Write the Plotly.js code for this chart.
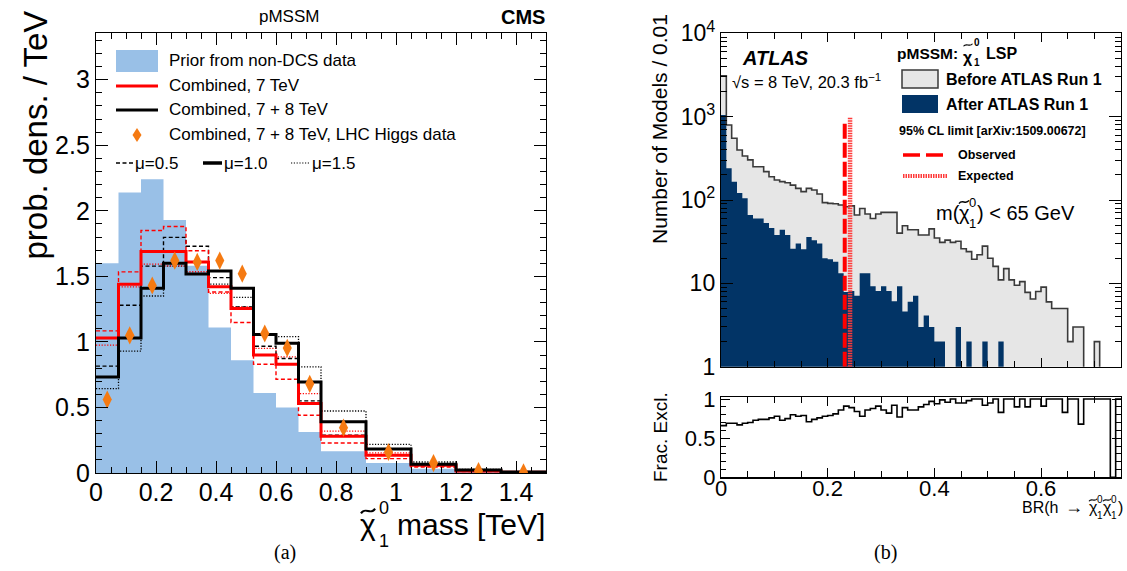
<!DOCTYPE html>
<html>
<head>
<meta charset="utf-8">
<script src="https://cdn.plot.ly/plotly-3.0.1.min.js"></script>
<style>
  html, body { margin: 0; padding: 0; background: #ffffff; }
  #chart { width: 1127px; height: 571px; }
</style>
</head>
<body>
<div id="chart"></div>
<script>
// ---------- (a) neutralino mass posterior densities (per TeV) ----------
const massEdges = [0, 0.075, 0.15, 0.225, 0.3, 0.375, 0.45, 0.525, 0.6, 0.675, 0.75, 0.9, 1.05, 1.2, 1.35, 1.5];
const priorNonDCS = [1.60, 2.14, 2.24, 1.93, 1.58, 1.11, 0.86, 0.61, 0.50, 0.313, 0.166, 0.076, 0.033, 0.012, 0.005];
const comb7 = [1.03, 1.44, 1.69, 1.69, 1.61, 1.42, 1.255, 0.90, 0.83, 0.53, 0.28, 0.135, 0.059, 0.015, 0.005];
const comb7Mu05 = [1.084, 1.534, 1.85, 1.88, 1.695, 1.38, 1.148, 0.83, 0.715, 0.44, 0.229, 0.11, 0.046, 0.012, 0.004];
const comb7Mu15 = [0.975, 1.42, 1.593, 1.58, 1.535, 1.37, 1.267, 0.95, 0.886, 0.606, 0.32, 0.153, 0.066, 0.018, 0.006];
const comb78 = [0.733, 1.03, 1.41, 1.60, 1.517, 1.54, 1.41, 1.056, 0.99, 0.695, 0.39, 0.183, 0.066, 0.023, 0.008];
const comb78Mu05 = [0.815, 1.28, 1.578, 1.797, 1.73, 1.49, 1.267, 0.967, 0.873, 0.55, 0.288, 0.14, 0.055, 0.017, 0.006];
const comb78Mu15 = [0.644, 0.93, 1.35, 1.578, 1.52, 1.44, 1.34, 1.05, 1.04, 0.81, 0.473, 0.219, 0.084, 0.028, 0.010];
const comb78Higgs = [0.56, 1.05, 1.43, 1.62, 1.61, 1.62, 1.52, 1.064, 0.954, 0.68, 0.346, 0.16, 0.076, 0.015, 0.005];

// ---------- (b) BR(h -> chi chi) model counts per 0.01 ----------
const brBinWidth = 0.01;
const beforeRun1 = [3100, 795, 550, 398, 337, 303, 251, 251, 219, 190, 174, 166, 161, 151, 138, 126, 138, 132, 118, 93,
  91, 90, 87, 83, 85, 66, 79, 68, 60, 68, 71, 71, 71, 40, 49, 44, 44, 38, 38, 45,
  35, 31, 33, 31, 32, 26, 24, 19.5, 22, 28, 20, 16, 11, 15, 11, 9.5, 10.5, 7.8, 6.5, 8,
  9, 6, 5, 5, 5, 2, 3, 3, 0, 0, 2, 0, 0, 0, 0];
const afterRun1 = [1050, 240, 166, 121, 105, 66, 60, 60, 53, 46, 38, 44, 38, 26, 30, 25.6, 36, 33, 30, 20,
  19.4, 18.2, 13.2, 7.9, 8.1, 7.1, 13.2, 13.2, 9.2, 8.1, 9.2, 8.1, 6.1, 9.2, 4.6, 6, 7.1, 3, 4.1, 3,
  2, 2, 0, 0, 3, 0, 2, 0, 0, 2, 0, 0, 2, 0, 0, 0, 0, 0, 0, 0,
  0, 0, 0, 0, 0, 0, 0, 0, 0, 0, 0, 0, 0, 0, 0];
const fracExcluded = [0.66, 0.69, 0.69, 0.67, 0.69, 0.70, 0.73, 0.74, 0.74, 0.76, 0.78, 0.73, 0.75, 0.80, 0.78, 0.79, 0.71, 0.74, 0.76, 0.78,
  0.79, 0.81, 0.86, 0.91, 0.89, 0.84, 0.78, 0.86, 0.88, 0.91, 0.86, 0.82, 0.92, 0.77, 0.89, 0.86, 0.86, 0.90, 0.93, 0.97,
  0.94, 0.99, 0.96, 1, 0.95, 0.95, 0.98, 1, 1, 0.92, 0.95, 1, 0.83, 1, 1, 0.90, 1, 0.90, 1, 1,
  0.91, 1, 1, 1, 0.83, 1, 1, 0.68, 1, 1, 1, 1, 1, 0, 1];
const limitObserved = 0.232;
const limitExpected = 0.242;
const limitTopObserved = 910;
const limitTopExpected = 1000;

// ---------- helpers ----------
const W = 1127, H = 571;
const px = x => x / W;
const py = y => 1 - y / H;
const SANS = 'Liberation Sans, Arial, Helvetica, sans-serif';
const SERIF = 'Liberation Serif, Times New Roman, serif';

const brEdges = Array.from({ length: beforeRun1.length + 1 }, (_, i) => +(i * brBinWidth).toFixed(4));
const centers = e => e.slice(0, -1).map((v, i) => (v + e[i + 1]) / 2);

// outline of a histogram as an hv step line
function stepTrace(vals, color, width, dash, xa, ya, edges, floor) {
  const y = vals.map(v => (floor !== undefined && v <= 0) ? floor : v);
  return {
    type: 'scatter', mode: 'lines', x: edges.slice(), y: y.concat([y[y.length - 1]]),
    xaxis: xa, yaxis: ya,
    line: { shape: 'hv', color: color, width: width, dash: dash || 'solid' },
    hoverinfo: 'skip', showlegend: false
  };
}
// filled histogram as one closed polygon (no seams between bins)
function fillTrace(vals, color, xa, ya, edges, floor) {
  const xs = [edges[0]], ys = [floor];
  vals.forEach((v, i) => {
    const h = v > 0 ? v : floor;
    xs.push(edges[i], edges[i + 1]);
    ys.push(h, h);
  });
  xs.push(edges[edges.length - 1]); ys.push(floor);
  return {
    type: 'scatter', mode: 'lines', x: xs, y: ys, xaxis: xa, yaxis: ya,
    fill: 'toself', fillcolor: color, line: { width: 0, color: color },
    hoverinfo: 'skip', showlegend: false
  };
}

const RED = '#ff0000';
const EXP_RED = '#ff3a3a';
const DASH = '4px,2.5px';
const DOT = '1.2px,1.6px';

const traces = [
  // (a)
  fillTrace(priorNonDCS, '#99c0e7', 'x', 'y', massEdges, 0),
  stepTrace(comb78Mu15, '#000000', 1.3, DOT, 'x', 'y', massEdges),
  stepTrace(comb7Mu15, RED, 1.3, DOT, 'x', 'y', massEdges),
  stepTrace(comb78Mu05, '#000000', 1.4, DASH, 'x', 'y', massEdges),
  stepTrace(comb7Mu05, RED, 1.4, DASH, 'x', 'y', massEdges),
  stepTrace(comb7, RED, 3, 'solid', 'x', 'y', massEdges),
  stepTrace(comb78, '#000000', 3, 'solid', 'x', 'y', massEdges),
  {
    type: 'scatter', mode: 'markers', x: centers(massEdges), y: comb78Higgs,
    xaxis: 'x', yaxis: 'y', cliponaxis: true,
    marker: { symbol: 'diamond-tall', size: 13, color: '#f57a12', line: { width: 0 } },
    hoverinfo: 'skip', showlegend: false
  },
  // (b) upper
  fillTrace(beforeRun1, '#e6e6e6', 'x2', 'y2', brEdges, 0.5),
  fillTrace(afterRun1, '#023466', 'x2', 'y2', brEdges, 0.5),
  stepTrace(beforeRun1, '#3a3a3a', 1.6, 'solid', 'x2', 'y2', brEdges, 0.5),
  {
    type: 'scatter', mode: 'lines', x: [limitObserved, limitObserved], y: [1, limitTopObserved],
    xaxis: 'x2', yaxis: 'y2', line: { color: RED, width: 4, dash: '15px,4px' },
    hoverinfo: 'skip', showlegend: false
  },
  {
    type: 'scatter', mode: 'lines', x: [limitExpected, limitExpected], y: [1, limitTopExpected],
    xaxis: 'x2', yaxis: 'y2', line: { color: EXP_RED, width: 4.5, dash: '1.5px,1px' },
    hoverinfo: 'skip', showlegend: false
  },
  // (b) lower
  stepTrace(fracExcluded, '#000000', 1.6, 'solid', 'x3', 'y3', brEdges)
];

// log-axis minor tick positions
const logMinor = [];
for (let d = 0; d < 4; d++) for (let k = 2; k <= 9; k++) logMinor.push(k * Math.pow(10, d));

const frameAxis = {
  showline: true, linecolor: '#000000', linewidth: 1.2, mirror: 'allticks',
  ticks: 'inside', tickcolor: '#000000', tickwidth: 1,
  showgrid: false, zeroline: false, fixedrange: true
};

const layout = {
  width: W, height: H,
  margin: { l: 0, r: 0, t: 0, b: 0 },
  paper_bgcolor: '#ffffff', plot_bgcolor: 'rgba(0,0,0,0)',
  showlegend: false,
  font: { family: SANS, color: '#000000' },
  xaxis: Object.assign({}, frameAxis, {
    domain: [px(96), px(546)], anchor: 'y', range: [0, 1.5],
    tick0: 0, dtick: 0.2, ticklen: 12, ticklabelstandoff: -3,
    minor: { dtick: 0.05, tick0: 0, ticks: 'inside', ticklen: 6, tickcolor: '#000000' },
    tickfont: { family: SANS, size: 25 }
  }),
  yaxis: Object.assign({}, frameAxis, {
    domain: [py(473), py(33)], anchor: 'x', range: [0, 3.356],
    tick0: 0, dtick: 0.5, ticklen: 12,
    minor: { dtick: 0.1, tick0: 0, ticks: 'inside', ticklen: 6, tickcolor: '#000000' },
    tickfont: { family: SANS, size: 25 }
  }),
  xaxis2: Object.assign({}, frameAxis, {
    domain: [px(721), px(1121)], anchor: 'y2', range: [0, 0.75],
    tick0: 0, dtick: 0.2, ticklen: 9, showticklabels: false,
    minor: { dtick: 0.05, tick0: 0, ticks: 'inside', ticklen: 6, tickcolor: '#000000' }
  }),
  yaxis2: Object.assign({}, frameAxis, {
    domain: [py(366.7), py(33.3)], anchor: 'x2', type: 'log', range: [0, 4],
    tickmode: 'array', tickvals: [1, 10, 100, 1000, 10000],
    ticktext: ['1', '10', '10<sup>2</sup>', '10<sup>3</sup>', '10<sup>4</sup>'],
    ticklen: 12,
    minor: { tickmode: 'array', tickvals: logMinor, ticks: 'inside', ticklen: 6, tickcolor: '#000000' },
    tickfont: { family: SANS, size: 23 }
  }),
  xaxis3: Object.assign({}, frameAxis, {
    domain: [px(721), px(1121)], anchor: 'y3', range: [0, 0.75],
    tick0: 0, dtick: 0.2, ticklen: 9, ticklabelstandoff: -9,
    minor: { dtick: 0.05, tick0: 0, ticks: 'inside', ticklen: 6, tickcolor: '#000000' },
    tickfont: { family: SANS, size: 22 }
  }),
  yaxis3: Object.assign({}, frameAxis, {
    domain: [py(477.3), py(396.7)], anchor: 'x3', range: [0, 1.03],
    tickmode: 'array', tickvals: [0, 0.5, 1], ticktext: ['0', '0.5', '1'], ticklen: 9,
    minor: { dtick: 0.1, tick0: 0, ticks: 'inside', ticklen: 5, tickcolor: '#000000' },
    tickfont: { family: SANS, size: 22 }
  }),
  shapes: [],
  annotations: []
};

function note(text, x, y, size, opts) {
  layout.annotations.push(Object.assign({
    text: text, x: px(x), y: py(y), xref: 'paper', yref: 'paper', showarrow: false,
    xanchor: 'left', yanchor: 'middle', font: { family: SANS, size: size, color: '#000000' }
  }, opts || {}));
}
function seg(x0, y0, x1, y1, color, width, dash) {
  layout.shapes.push({
    type: 'line', xref: 'paper', yref: 'paper', x0: px(x0), y0: py(y0), x1: px(x1), y1: py(y1),
    line: { color: color, width: width, dash: dash || 'solid' }
  });
}
function box(x0, y0, x1, y1, fill, lineColor, lineWidth) {
  layout.shapes.push({
    type: 'rect', xref: 'paper', yref: 'paper', x0: px(x0), y0: py(y1), x1: px(x1), y1: py(y0),
    fillcolor: fill, line: { color: lineColor || fill, width: lineWidth || 0 }
  });
}
// small wavy tilde drawn over a chi
function tilde(cx, cy, w, a, lw) {
  const x0 = cx - w / 2, x1 = cx + w / 2;
  const P = (x, y) => `${px(x)},${py(y)}`;
  layout.shapes.push({
    type: 'path', xref: 'paper', yref: 'paper', line: { color: '#000000', width: lw },
    path: `M ${P(x0, cy + a)} C ${P(x0 + w * 0.3, cy - 2 * a)} ${P(x1 - w * 0.3, cy + 2 * a)} ${P(x1, cy - a)}`
  });
}
// neutralino symbol: chi, tilde, stacked 0 / 1
function neutralino(cx, cy, size, idxX, supY, subY, idxSize, tildeY, tildeW, bold) {
  note(bold ? '<b>χ</b>' : 'χ', cx, cy, size, { xanchor: 'center' });
  tilde(cx, tildeY, tildeW, size * 0.08, Math.max(1, size * 0.07));
  note(bold ? '<b>0</b>' : '0', idxX, supY, idxSize, { xanchor: 'center' });
  note(bold ? '<b>1</b>' : '1', idxX, subY, idxSize, { xanchor: 'center' });
}

// ----- (a) labels -----
note('pMSSM', 289, 17, 17, { xanchor: 'center' });
note('<b>CMS</b>', 547, 17, 20, { xanchor: 'right' });
note('prob. dens. / TeV', 35, 9, 33, { textangle: -90, xanchor: 'center', yanchor: 'top' });
note('mass [TeV]', 547, 524, 30, { xanchor: 'right' });
neutralino(368, 524, 30, 384, 508, 541, 18, 511, 14, false);
note('(a)', 285, 552, 20, { xanchor: 'center', font: { family: SERIF, size: 20, color: '#000000' } });

// (a) legend
box(116, 50, 158, 72, '#99c0e7');
note('Prior from non-DCS data', 167, 61, 17);
seg(116, 86, 158, 86, RED, 3);
note('Combined, 7 TeV', 167, 86, 17);
seg(116, 110, 158, 110, '#000000', 3);
note('Combined, 7 + 8 TeV', 167, 110, 17);
layout.shapes.push({
  type: 'path', xref: 'paper', yref: 'paper', fillcolor: '#f57a12', line: { width: 0 },
  path: `M ${px(137)},${py(128)} L ${px(141.5)},${py(135)} L ${px(137)},${py(142)} L ${px(132.5)},${py(135)} Z`
});
note('Combined, 7 + 8 TeV, LHC Higgs data', 167, 135, 17);
seg(116, 163, 133, 163, '#000000', 1.4, DASH);
note('μ=0.5', 133, 163, 17);
seg(203, 163, 222, 163, '#000000', 3.5);
note('μ=1.0', 222, 163, 17);
seg(291, 163, 310, 163, '#000000', 1.2, DOT);
note('μ=1.5', 310, 163, 17);

// ----- (b) labels -----
note('Number of Models / 0.01', 660, 12, 21, { textangle: -90, xanchor: 'center', yanchor: 'top' });
note('Frac. Excl.', 660, 437, 19, { textangle: -90, xanchor: 'center' });
note('<b><i>ATLAS</i></b>', 740, 58, 20);
note('√s = 8 TeV, 20.3 fb<sup>−1</sup>', 730, 81, 16.5);
note('<b>pMSSM:</b>', 895, 54, 15.5);
neutralino(968, 57, 16, 977, 43, 62, 10, 45, 9, true);
note('<b>LSP</b>', 984, 54, 16);
box(902, 70, 938, 88, '#e6e6e6', '#3a3a3a', 1.5);
note('<b>Before ATLAS Run 1</b>', 944, 79, 16);
box(902, 95, 938, 113, '#023466');
note('<b>After ATLAS Run 1</b>', 944, 104, 16);
note('<b>95% CL limit [arXiv:1509.00672]</b>', 897, 131, 12.5);
seg(903, 155, 948, 155, RED, 3.5, '17px,6px');
note('<b>Observed</b>', 956, 155, 12.5);
seg(903, 176, 948, 176, EXP_RED, 4, '1.5px,1px');
note('<b>Expected</b>', 956, 176, 12.5);
note('m(', 934, 213, 20);
neutralino(964, 213, 20, 972, 202, 223, 13, 202, 10, false);
note(') < 65 GeV', 975, 213, 20);
note('BR(h', 1020, 507, 16);
note('→', 1074, 507, 18, { xanchor: 'center' });
neutralino(1093, 507, 16, 1100, 499, 515, 10, 500, 8, false);
neutralino(1107, 507, 16, 1114, 499, 515, 10, 500, 8, false);
note(')', 1116, 507, 16);
note('(b)', 885, 552, 20, { xanchor: 'center', font: { family: SERIF, size: 20, color: '#000000' } });

Plotly.newPlot('chart', traces, layout, { staticPlot: true, displayModeBar: false });
</script>
</body>
</html>
